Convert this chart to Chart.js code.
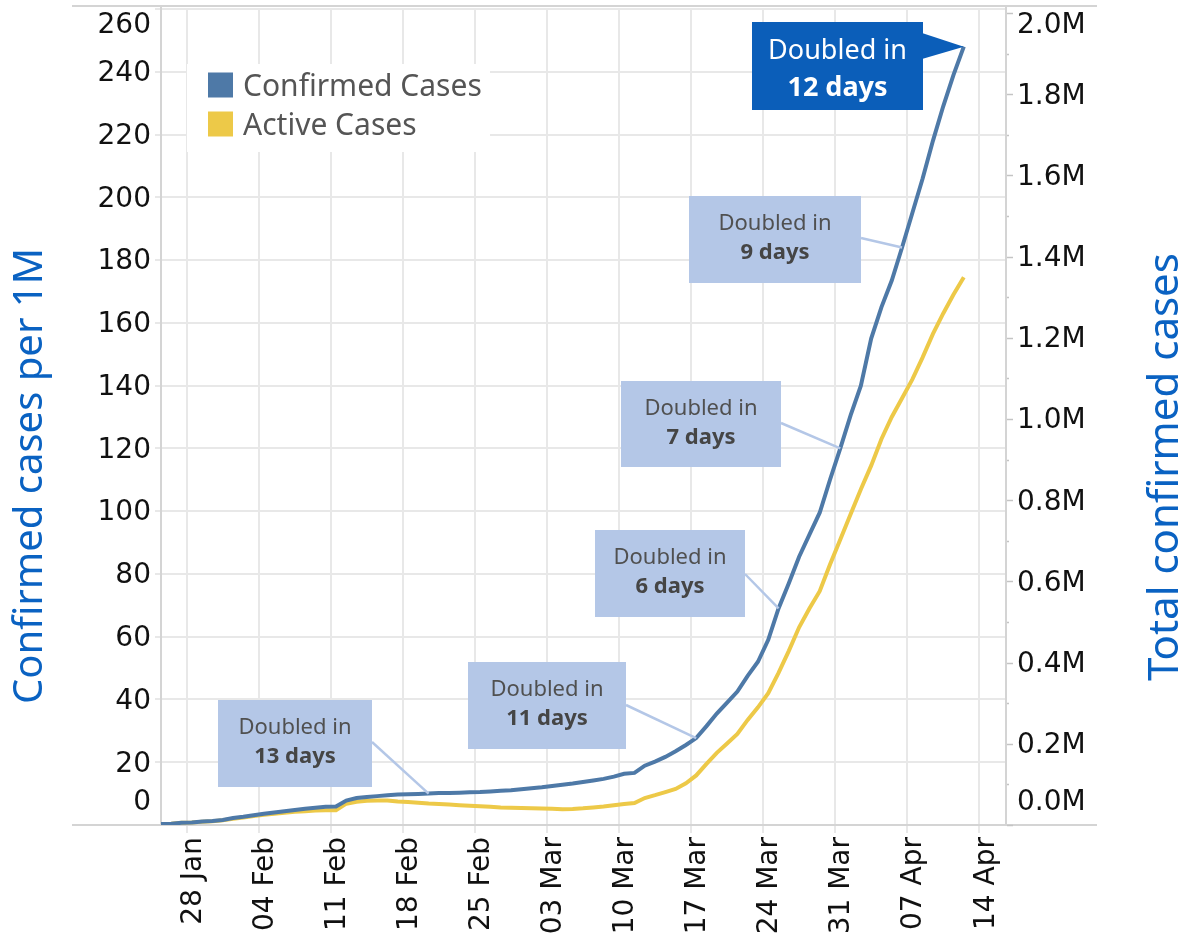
<!DOCTYPE html>
<html>
<head>
<meta charset="utf-8">
<script src="https://cdn.jsdelivr.net/npm/chart.js@4.4.1/dist/chart.umd.min.js"></script>
<style>
html,body{margin:0;padding:0;background:#fff;}
canvas{display:block;}
</style>
</head>
<body>
<canvas id="c" width="1189" height="935"></canvas>
<script>
// ---------------- DATA ----------------
const dates = [
 '2020-01-25','2020-01-26','2020-01-27','2020-01-28','2020-01-29','2020-01-30','2020-01-31',
 '2020-02-01','2020-02-02','2020-02-03','2020-02-04','2020-02-05','2020-02-06','2020-02-07',
 '2020-02-08','2020-02-09','2020-02-10','2020-02-11','2020-02-12','2020-02-13','2020-02-14',
 '2020-02-15','2020-02-16','2020-02-17','2020-02-18','2020-02-19','2020-02-20','2020-02-21',
 '2020-02-22','2020-02-23','2020-02-24','2020-02-25','2020-02-26','2020-02-27','2020-02-28',
 '2020-02-29','2020-03-01','2020-03-02','2020-03-03','2020-03-04','2020-03-05','2020-03-06',
 '2020-03-07','2020-03-08','2020-03-09','2020-03-10','2020-03-11','2020-03-12','2020-03-13',
 '2020-03-14','2020-03-15','2020-03-16','2020-03-17','2020-03-18','2020-03-19','2020-03-20',
 '2020-03-21','2020-03-22','2020-03-23','2020-03-24','2020-03-25','2020-03-26','2020-03-27',
 '2020-03-28','2020-03-29','2020-03-30','2020-03-31','2020-04-01','2020-04-02','2020-04-03',
 '2020-04-04','2020-04-05','2020-04-06','2020-04-07','2020-04-08','2020-04-09','2020-04-10',
 '2020-04-11','2020-04-12'
];
const confirmedPer1M = [
 0.3,0.4,0.7,0.8,1.1,1.3,1.6,
 2.2,2.6,3.1,3.6,4.0,4.4,4.8,
 5.2,5.5,5.8,5.9,7.8,8.6,8.9,
 9.2,9.5,9.7,9.8,9.9,10.0,10.2,
 10.2,10.3,10.4,10.5,10.7,10.9,11.1,
 11.4,11.7,12.0,12.4,12.8,13.2,13.7,
 14.2,14.7,15.4,16.3,16.6,18.9,20.2,
 21.7,23.5,25.5,27.7,31.5,35.5,39.0,
 42.5,47.5,52.0,59.0,69.0,77.0,85.5,
 92.5,99.5,110.0,120.0,130.5,140.0,155.0,
 165.0,173.5,184.0,195.0,206.0,218.0,229.0,
 239.0,248.0
];
const activePer1M = [
 0.3,0.4,0.7,0.8,1.0,1.2,1.5,
 2.0,2.4,2.9,3.3,3.6,3.9,4.2,
 4.4,4.6,4.7,4.7,6.8,7.4,7.7,
 7.8,7.8,7.5,7.35,7.1,6.85,6.7,
 6.5,6.3,6.1,5.95,5.8,5.6,5.5,
 5.4,5.3,5.25,5.15,5.05,5.1,5.3,
 5.6,5.9,6.3,6.7,7.0,8.6,9.5,
 10.5,11.5,13.3,15.8,19.5,23.0,26.0,
 29.0,33.5,37.5,42.0,48.5,55.5,63.0,
 69.0,74.5,83.0,91.0,99.0,107.0,114.5,
 123.0,130.0,136.0,142.0,149.0,156.5,163.0,
 169.0,174.5
];
const xTickDates = ['2020-01-28','2020-02-04','2020-02-11','2020-02-18','2020-02-25','2020-03-03',
 '2020-03-10','2020-03-17','2020-03-24','2020-03-31','2020-04-07','2020-04-14'];
const xTickLabels = ['28 Jan','04 Feb','11 Feb','18 Feb','25 Feb','03 Mar',
 '10 Mar','17 Mar','24 Mar','31 Mar','07 Apr','14 Apr'];
const leftTickValues = [0,20,40,60,80,100,120,140,160,180,200,220,240,260];
const rightTickValues = [0,200000,400000,600000,800000,1000000,1200000,1400000,1600000,1800000,2000000];
const rightTickLabels = ['0.0M','0.2M','0.4M','0.6M','0.8M','1.0M','1.2M','1.4M','1.6M','1.8M','2.0M'];
const seriesNames = ['Confirmed Cases','Active Cases'];
const doublingDates = ['2020-02-20','2020-03-17','2020-03-25','2020-03-31','2020-04-06','2020-04-12'];
const doublingDays = [13,11,6,7,9,12];

// ---------------- LAYOUT / STYLE ----------------
const BLUE = '#4e79a7', YELLOW = '#edc948', TITLE_BLUE = '#0a62c2';
const GRID = '#e8e8e8', FRAME = '#d4d4d4';
const TICK_FONT = '28px "DejaVu Sans"';
const pointOffsetDays = 0.5;
const boxLayout = [
  {x:218,y:700,w:154,h:87,lx:372,ly:742},
  {x:468,y:662,w:158,h:87,lx:626,ly:705},
  {x:595,y:530,w:150,h:87,lx:745,ly:574},
  {x:621,y:381,w:160,h:86,lx:781,ly:423},
  {x:689,y:196,w:172,h:87,lx:861,ly:238},
  {x:752,y:22,w:171,h:88,dark:true}
];

function dayOf(iso){
  const [y,m,d] = iso.split('-').map(Number);
  return (Date.UTC(y,m-1,d) - Date.UTC(2020,0,28)) / 86400000;
}
const confirmedPts = dates.map((d,i)=>({x:dayOf(d)+pointOffsetDays, y:confirmedPer1M[i]}));
const activePts = dates.map((d,i)=>({x:dayOf(d)+pointOffsetDays, y:activePer1M[i]}));

const decor = {
  id:'decor',
  beforeDatasetsDraw(chart){
    const ctx = chart.ctx, a = chart.chartArea;
    ctx.save();
    ctx.strokeStyle = FRAME; ctx.lineWidth = 2;
    ctx.beginPath();
    ctx.moveTo(72,6); ctx.lineTo(1097,6);
    ctx.moveTo(72,a.bottom); ctx.lineTo(1097,a.bottom);
    ctx.moveTo(a.left,6); ctx.lineTo(a.left,a.bottom);
    ctx.moveTo(a.right,6); ctx.lineTo(a.right,a.bottom);
    ctx.stroke();
    ctx.restore();
  },
  afterDatasetsDraw(chart){
    const ctx = chart.ctx;
    const xs = chart.scales.x, ys = chart.scales.y;
    ctx.save();
    // legend
    ctx.fillStyle = '#fff';
    ctx.fillRect(187,64,303,88);
    const ds = chart.data.datasets;
    const legY = [85,124];
    ds.forEach((d,i)=>{
      ctx.fillStyle = d.borderColor;
      ctx.fillRect(208,legY[i]-12.5,25,25);
      ctx.fillStyle = '#555';
      ctx.font = '30px "Noto Sans"';
      ctx.textAlign = 'left'; ctx.textBaseline = 'middle';
      ctx.fillText(d.label,243,legY[i]+2);
    });
    // annotations
    doublingDates.forEach((dt,i)=>{
      const idx = dates.indexOf(dt);
      const px = xs.getPixelForValue(dayOf(dt)+pointOffsetDays);
      const py = ys.getPixelForValue(confirmedPer1M[idx]);
      const b = boxLayout[i];
      if (b.dark){
        ctx.fillStyle = '#0b5eb9';
        ctx.fillRect(b.x,b.y,b.w,b.h);
        ctx.beginPath();
        ctx.moveTo(b.x+b.w-1,b.y+11); ctx.lineTo(px,py); ctx.lineTo(b.x+b.w-1,b.y+37);
        ctx.closePath(); ctx.fill();
        ctx.fillStyle = '#fff';
        ctx.textAlign='center'; ctx.textBaseline='middle';
        ctx.font = '27px "Noto Sans"';
        ctx.fillText('Doubled in', b.x+b.w/2, b.y+29);
        ctx.font = 'bold 27px "Noto Sans"';
        ctx.fillText(doublingDays[i]+' days', b.x+b.w/2, b.y+66);
      } else {
        ctx.strokeStyle = '#b4c7e7'; ctx.lineWidth = 2.5;
        ctx.beginPath(); ctx.moveTo(b.lx,b.ly); ctx.lineTo(px,py); ctx.stroke();
        ctx.fillStyle = '#b4c7e7';
        ctx.fillRect(b.x,b.y,b.w,b.h);
        ctx.textAlign='center'; ctx.textBaseline='middle';
        ctx.fillStyle = '#505050';
        ctx.font = '22px "Noto Sans"';
        ctx.fillText('Doubled in', b.x+b.w/2, b.y+28);
        ctx.fillStyle = '#454545';
        ctx.font = 'bold 22px "Noto Sans"';
        ctx.fillText(doublingDays[i]+' days', b.x+b.w/2, b.y+57);
      }
    });
    ctx.restore();
  },
  afterDraw(chart){
    const ctx = chart.ctx, a = chart.chartArea;
    const ys = chart.scales.y, y1 = chart.scales.y1;
    const clamp = v => Math.max(a.top+15, Math.min(a.bottom-24, v)) + 2;
    ctx.save();
    ctx.fillStyle = '#111';
    ctx.font = TICK_FONT;
    ctx.textBaseline = 'middle';
    ctx.textAlign = 'right';
    leftTickValues.forEach(v=>{
      ctx.fillText(String(v), 151, clamp(ys.getPixelForValue(v)));
    });
    ctx.strokeStyle = '#c4c4c4'; ctx.lineWidth = 1.5;
    for (let k=0;k<=20;k++){
      const yy = Math.round(y1.getPixelForValue(k*100000))+0.5;
      ctx.beginPath();
      ctx.moveTo(a.right+1,yy); ctx.lineTo(a.right+(k%2===0?7:3),yy);
      ctx.stroke();
    }
    ctx.textAlign = 'left';
    rightTickValues.forEach((v,i)=>{
      ctx.fillText(rightTickLabels[i], 1017, clamp(y1.getPixelForValue(v)));
    });
    ctx.fillStyle = TITLE_BLUE;
    ctx.textAlign = 'center';
    ctx.font = '40px "Noto Sans"';
    ctx.save(); ctx.translate(31,476); ctx.rotate(-Math.PI/2);
    ctx.fillText('Confirmed cases per 1M',0,0); ctx.restore();
    ctx.font = '42px "Noto Sans"';
    ctx.save(); ctx.translate(1166,467); ctx.rotate(-Math.PI/2);
    ctx.fillText('Total confirmed cases',0,0); ctx.restore();
    ctx.restore();
  }
};

new Chart(document.getElementById('c'), {
  type:'line',
  data:{
    datasets:[
      {label:seriesNames[0], data:confirmedPts, borderColor:BLUE, backgroundColor:BLUE, borderWidth:4, pointRadius:0, tension:0, yAxisID:'y'},
      {label:seriesNames[1], data:activePts, borderColor:YELLOW, backgroundColor:YELLOW, borderWidth:4, pointRadius:0, tension:0, yAxisID:'y'}
    ]
  },
  options:{
    responsive:false, animation:false, devicePixelRatio:1,
    layout:{padding:{left:0,right:0,top:9,bottom:0}},
    plugins:{legend:{display:false}, tooltip:{enabled:false}, title:{display:false}},
    scales:{
      x:{
        type:'linear', min:-2.5, max:79.6,
        afterBuildTicks:s=>{ s.ticks = xTickDates.map(d=>({value:dayOf(d)})); },
        afterFit:s=>{ s.height = 110; },
        ticks:{autoSkip:false, minRotation:90, maxRotation:90, padding:4, labelOffset:7, color:'#111',
          font:{family:'DejaVu Sans', size:28}, callback:(v,i)=>xTickLabels[i]},
        grid:{color:GRID, lineWidth:2, tickLength:8, drawTicks:true},
        border:{display:false}
      },
      y:{
        position:'left', min:0, max:260,
        afterBuildTicks:s=>{ s.ticks = leftTickValues.map(v=>({value:v})); },
        afterFit:s=>{ s.width = 161; },
        ticks:{display:false},
        grid:{color:GRID, lineWidth:2, tickLength:6, drawTicks:true},
        border:{display:false}
      },
      y1:{
        position:'right', min:0, max:2010000,
        afterFit:s=>{ s.width = 183; },
        ticks:{display:false},
        grid:{display:false},
        border:{display:false}
      }
    }
  },
  plugins:[decor]
});
</script>
</body>
</html>
